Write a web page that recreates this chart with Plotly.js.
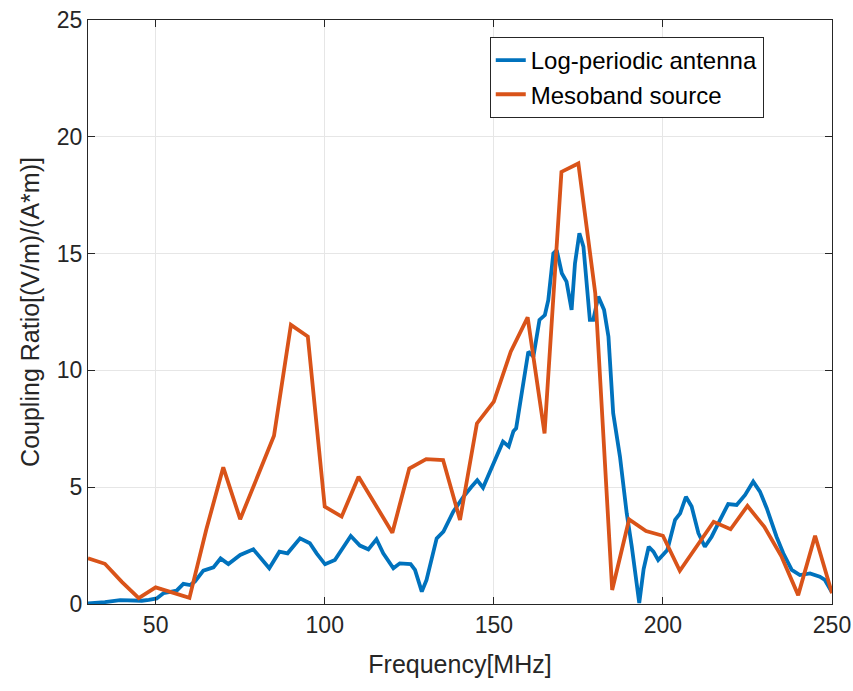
<!DOCTYPE html>
<html>
<head>
<meta charset="utf-8">
<script src="https://cdn.plot.ly/plotly-3.0.1.min.js"></script>
<style>html,body{margin:0;padding:0;background:#fff;}#chart{width:853px;height:691px;}</style>
</head>
<body>
<div id="chart"></div>
<script>
const seriesNames = ["Log-periodic antenna", "Mesoband source"];

const logFreq = [30, 31.1, 35, 39.5, 42, 45.9, 48, 50.3, 52.3, 54, 56.2, 58.2, 60.2, 61.6, 64.1, 67.1, 69.2, 71.5, 75, 78.9, 81.4, 83.6, 86.6, 89, 92.7, 95.6, 97.6, 100.1, 103, 105.5, 107.7, 110.4, 112.9, 115.3, 117.3, 120.3, 122.2, 125.4, 126.7, 128.7, 130.1, 133.1, 135.1, 138, 141, 143.4, 145.1, 146.8, 149.8, 152.7, 154.4, 155.8, 156.6, 158.2, 160.2, 161.7, 163.5, 165.1, 166.1, 167.6, 168.6, 170.1, 171.5, 173, 174, 175.3, 176.5, 178.4, 179.4, 180.9, 182.6, 183.9, 185.3, 187.3, 189.3, 190.8, 193, 194.3, 195.8, 197.2, 198.6, 201.3, 203.6, 205.1, 206.8, 208.5, 210.5, 212.4, 214.4, 216.9, 219.3, 221.8, 224.3, 226.7, 228.7, 230.7, 233.6, 235.6, 238.1, 240.5, 243.5, 246.4, 247.9, 249.6, 250];
const logVal  = [0.02, 0.03, 0.08, 0.17, 0.15, 0.14, 0.18, 0.24, 0.46, 0.5, 0.57, 0.86, 0.81, 0.96, 1.43, 1.57, 1.95, 1.71, 2.1, 2.34, 1.88, 1.53, 2.24, 2.17, 2.81, 2.6, 2.17, 1.7, 1.88, 2.45, 2.91, 2.5, 2.34, 2.77, 2.17, 1.53, 1.74, 1.71, 1.46, 0.53, 1.03, 2.81, 3.1, 3.95, 4.59, 5.02, 5.3, 4.98, 5.95, 6.95, 6.74, 7.4, 7.52, 9.02, 10.8, 10.59, 12.16, 12.37, 13.01, 15.01, 15.15, 14.16, 13.8, 12.59, 14.58, 15.87, 15.3, 12.16, 12.16, 13.16, 12.59, 11.44, 8.16, 6.31, 3.88, 2.45, 0.04, 1.5, 2.45, 2.24, 1.88, 2.31, 3.6, 3.88, 4.59, 4.17, 3.03, 2.45, 2.88, 3.6, 4.28, 4.24, 4.67, 5.24, 4.81, 4.1, 2.88, 2.17, 1.46, 1.24, 1.31, 1.17, 1.03, 0.6, 0.5];

const mesoFreq = [30, 35, 40, 45, 50, 55, 60, 65, 70, 75, 80, 85, 90, 95, 100, 105, 110, 115, 120, 125, 130, 135, 140, 145, 150, 155, 160, 165, 170, 175, 180, 185, 190, 195, 200, 205, 210, 215, 220, 225, 230, 235, 240, 245, 250];
const mesoVal  = [1.96, 1.72, 0.95, 0.25, 0.71, 0.5, 0.26, 3.2, 5.85, 3.63, 5.4, 7.2, 11.95, 11.45, 4.17, 3.74, 5.45, 4.25, 3.05, 5.8, 6.2, 6.16, 3.6, 7.73, 8.66, 10.8, 12.27, 7.3, 18.5, 18.86, 13.3, 0.6, 3.62, 3.12, 2.92, 1.42, 2.5, 3.52, 3.2, 4.2, 3.3, 2.05, 0.38, 2.92, 0.46];

const xTicks = [50, 100, 150, 200, 250];
const yTicks = [0, 5, 10, 15, 20, 25];

const fontFam = "Liberation Sans, Arial, sans-serif";

const traces = [
  {x: logFreq, y: logVal, name: seriesNames[0], type: "scatter", mode: "lines",
   line: {color: "#0072BD", width: 3.8}},
  {x: mesoFreq, y: mesoVal, name: seriesNames[1], type: "scatter", mode: "lines",
   line: {color: "#D95319", width: 3.8}}
];

const layout = {
  width: 853, height: 691,
  margin: {l: 88, r: 21, t: 20, b: 87},
  paper_bgcolor: "#fff", plot_bgcolor: "#fff",
  font: {family: fontFam, size: 22, color: "#262626"},
  showlegend: true,
  legend: {x: 0.54, y: 0.971, xanchor: "left", yanchor: "top",
           bgcolor: "#fff", bordercolor: "#262626", borderwidth: 1,
           font: {family: fontFam, size: 24, color: "#000"},
           tracegroupgap: 0},
  xaxis: {
    range: [30, 250], tickvals: xTicks, ticktext: xTicks.map(String),
    showgrid: true, gridcolor: "#e6e6e6", gridwidth: 1,
    zeroline: false, showline: true, linecolor: "#262626", linewidth: 1, mirror: "ticks",
    ticks: "inside", ticklen: 7, tickcolor: "#262626",
    tickfont: {size: 23, color: "#262626"},
    title: {text: "Frequency[MHz]", font: {size: 25, color: "#262626"}, standoff: 18}
  },
  yaxis: {
    range: [0, 25], tickvals: yTicks, ticktext: yTicks.map(String),
    showgrid: true, gridcolor: "#e6e6e6", gridwidth: 1,
    zeroline: false, showline: true, linecolor: "#262626", linewidth: 1, mirror: "ticks",
    ticks: "inside", ticklen: 7, tickcolor: "#262626",
    tickfont: {size: 23, color: "#262626"},
    title: {text: "Coupling Ratio[(V/m)/(A*m)]", font: {size: 25, color: "#262626"}, standoff: 10}
  }
};

Plotly.newPlot("chart", traces, layout, {displayModeBar: false, staticPlot: true});
</script>
</body>
</html>
